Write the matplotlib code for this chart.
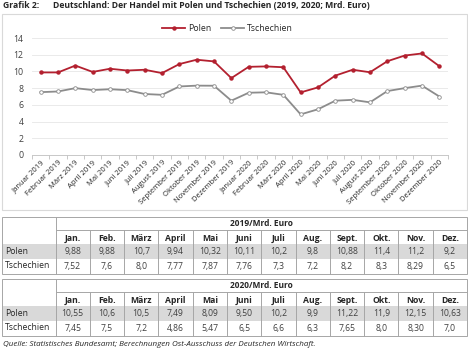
import matplotlib.pyplot as plt
from matplotlib.patches import Rectangle

plt.rcParams['font.family'] = ['Open Sans', 'DejaVu Sans']

# Werte aus der Tabelle (Mrd. Euro)
monate = ['Januar', 'Februar', 'März', 'April', 'Mai', 'Juni', 'Juli',
          'August', 'September', 'Oktober', 'November', 'Dezember']
monate_kurz = ['Jan.', 'Feb.', 'März', 'April', 'Mai', 'Juni', 'Juli',
               'Aug.', 'Sept.', 'Okt.', 'Nov.', 'Dez.']
polen_2019 = ['9,88', '9,88', '10,7', '9,94', '10,32', '10,11', '10,2', '9,8', '10,88', '11,4', '11,2', '9,2']
tsch_2019 = ['7,52', '7,6', '8,0', '7,77', '7,87', '7,76', '7,3', '7,2', '8,2', '8,3', '8,29', '6,5']
polen_2020 = ['10,55', '10,6', '10,5', '7,49', '8,09', '9,50', '10,2', '9,9', '11,22', '11,9', '12,15', '10,63']
tsch_2020 = ['7,45', '7,5', '7,2', '4,86', '5,47', '6,5', '6,6', '6,3', '7,65', '8,0', '8,30', '7,0']

def zahl(werte):
    return [float(w.replace(',', '.')) for w in werte]

labels = [m + ' 2019' for m in monate] + [m + ' 2020' for m in monate]
polen = zahl(polen_2019) + zahl(polen_2020)
tsch = zahl(tsch_2019) + zahl(tsch_2020)

W, H = 468, 350
fig = plt.figure(figsize=(W / 100, H / 100), dpi=100)

# Overlay in Pixelkoordinaten für Rahmen, Titel und Tabellen
ov = fig.add_axes([0, 0, 1, 1])
ov.set_xlim(0, W)
ov.set_ylim(H, 0)
ov.axis('off')

rot = '#b3202f'
grau = '#8c8c8c'
linie = '#a6a6a6'
text_farbe = '#262626'

ov.text(3, 6, 'Grafik 2:', fontsize=6.2, fontweight='bold', va='center', color=text_farbe)
ov.text(53, 6, 'Deutschland: Der Handel mit Polen und Tschechien (2019, 2020; Mrd. Euro)',
        fontsize=6.2, fontweight='bold', va='center', color=text_farbe)

# Rahmen des Diagramms
ov.add_patch(Rectangle((2, 14), 465, 196, fill=False, edgecolor='#d9d9d9', lw=0.8))

ax = fig.add_axes([32 / W, 1 - 155 / H, 416 / W, 117 / H])
x = range(len(labels))
ax.plot(x, polen, color=rot, lw=1.3, marker='o', ms=2.2, mfc=rot, mec=rot, label='Polen')
ax.plot(x, tsch, color=grau, lw=1.3, marker='o', ms=2.6, mfc='white', mec=grau, mew=0.6,
        label='Tschechien')
ax.set_xlim(-0.5, len(labels) - 0.5)
ax.set_ylim(0, 14)
ax.set_yticks(range(0, 15, 2))
ax.grid(axis='y', color='#e6e6e6', lw=0.6)
ax.set_axisbelow(True)
for s in ['top', 'right', 'left']:
    ax.spines[s].set_visible(False)
ax.spines['bottom'].set_color('#bfbfbf')
ax.spines['bottom'].set_linewidth(0.6)
ax.set_xticks(list(x))
ax.set_xticklabels(labels, rotation=45, ha='right', rotation_mode='anchor', fontsize=5.5,
                   color=text_farbe)
ax.set_xticks([i - 0.5 for i in range(len(labels) + 1)], minor=True)
ax.tick_params(axis='x', which='major', length=0, pad=3)
ax.tick_params(axis='x', which='minor', length=3, color='#bfbfbf', width=0.6)
ax.tick_params(axis='y', length=0, labelsize=6.3, labelcolor='#404040', pad=6)
ax.legend(loc='lower center', bbox_to_anchor=(0.47, 1.0), ncol=2, frameon=False, fontsize=6.3,
          handlelength=2.6, columnspacing=1.2, handletextpad=0.3, borderaxespad=0.2,
          labelcolor=text_farbe)


def tabelle(top, titel, reihe1, reihe2):
    links, rechts = 2, 467
    erste = 55.5
    bw = (rechts - erste) / 12
    y_kopf = top + 12.5
    y_mon = y_kopf + 14.5
    y_p = y_mon + 14.5
    y_t = y_p + 15
    ov.add_patch(Rectangle((links, y_mon), rechts - links, y_p - y_mon, color='#d9d9d9', lw=0))
    ov.add_patch(Rectangle((links, top), rechts - links, y_t - top, fill=False, edgecolor=linie, lw=0.7))
    ov.plot([erste, erste], [top, y_t], color=linie, lw=0.7)
    ov.plot([erste, rechts], [y_kopf, y_kopf], color=linie, lw=0.7)
    for i in range(1, 12):
        xs = erste + i * bw
        ov.plot([xs, xs], [y_kopf, y_t], color=linie, lw=0.7)
    ov.text((erste + rechts) / 2, (top + y_kopf) / 2, titel, fontsize=6.0, fontweight='bold',
            ha='center', va='center', color=text_farbe)
    for i in range(12):
        xc = erste + (i + 0.5) * bw
        ov.text(xc, (y_kopf + y_mon) / 2 + 1.5, monate_kurz[i], fontsize=6.2, fontweight='bold',
                ha='center', va='center', color=text_farbe)
        ov.text(xc, (y_mon + y_p) / 2, reihe1[i], fontsize=6.2, ha='center', va='center',
                color='#404040')
        ov.text(xc, (y_p + y_t) / 2, reihe2[i], fontsize=6.2, ha='center', va='center',
                color='#404040')
    ov.text(5, (y_mon + y_p) / 2, 'Polen', fontsize=6.2, va='center', color=text_farbe)
    ov.text(5, (y_p + y_t) / 2, 'Tschechien', fontsize=6.2, va='center', color=text_farbe)


tabelle(217, '2019/Mrd. Euro', polen_2019, tsch_2019)
tabelle(279, '2020/Mrd. Euro', polen_2020, tsch_2020)

ov.text(3, 345, 'Quelle: Statistisches Bundesamt; Berechnungen Ost-Ausschuss der Deutschen Wirtschaft.',
        fontsize=5.8, style='italic', va='center', color=text_farbe)

fig.savefig('out.png', dpi=100)
